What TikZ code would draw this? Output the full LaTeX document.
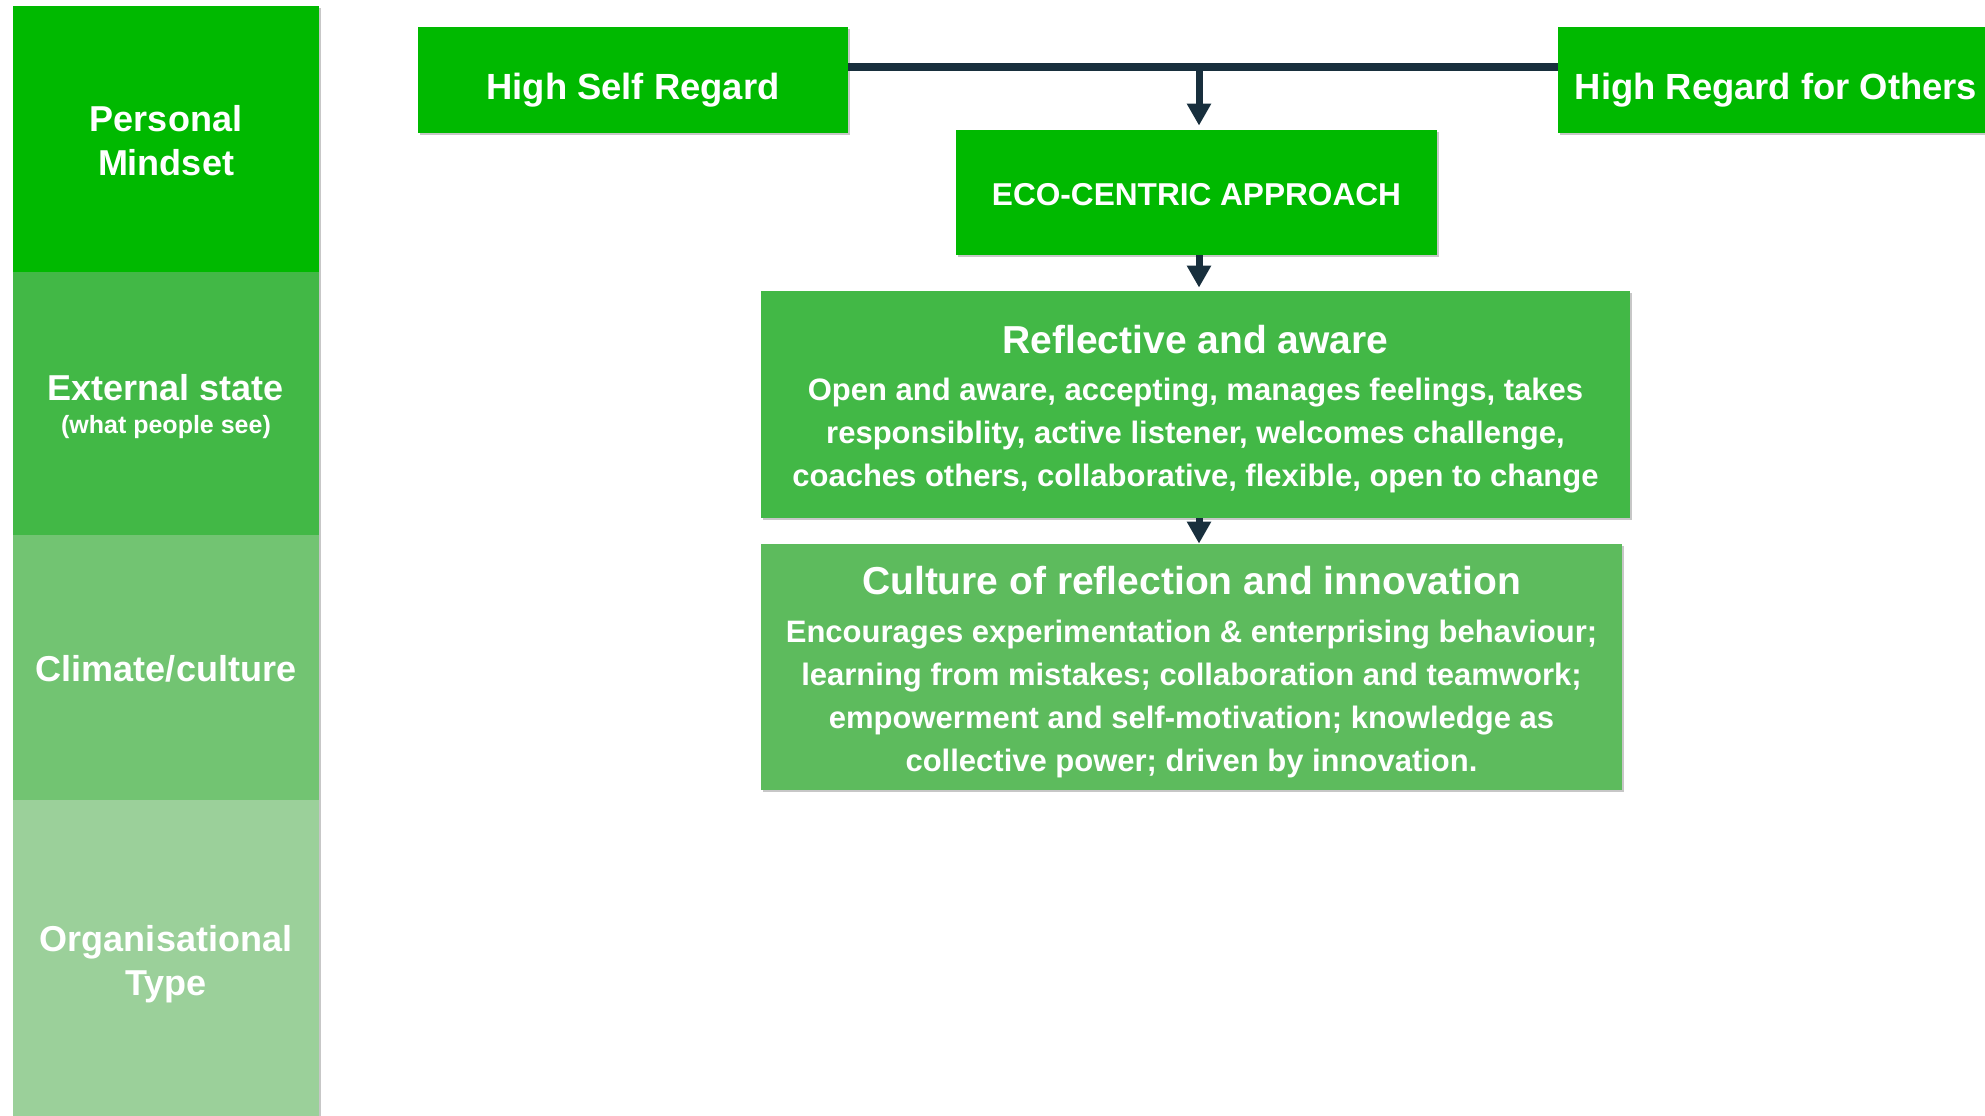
\documentclass[tikz,border=0pt]{standalone}
\usepackage{fontspec}
\setmainfont{Liberation Sans}
\usetikzlibrary{arrows.meta,shadows}
\definecolor{gBright}{HTML}{00B900}
\definecolor{gMid}{HTML}{42B846}
\definecolor{gClim}{HTML}{72C472}
\definecolor{gCult}{HTML}{5DBB5D}
\definecolor{gOrg}{HTML}{9BD09A}
\definecolor{navy}{HTML}{182F3D}
\tikzset{
  box/.style={draw=none, text=white, align=center, inner sep=0pt,
    drop shadow={shadow xshift=1.2pt, shadow yshift=-1.2pt, opacity=0.22, fill=black}},
  band/.style={box, minimum width=153pt, font=\bfseries\fontsize{18}{22}\selectfont},
  topbox/.style={box, fill=gBright, minimum height=53pt, font=\bfseries\fontsize{18.2}{22}\selectfont},
  bigbox/.style={box, font=\bfseries\fontsize{15.5}{21.5}\selectfont},
  conn/.style={draw=navy, line width=3.5pt, -{Triangle[width=11.5pt,length=11pt]}},
  barline/.style={draw=navy, line width=4pt},
}
\newcommand{\boxtitle}[1]{{\fontsize{19.5}{23}\selectfont #1}}
\newcommand{\lowered}[2]{\raisebox{-#1}[\height][\depth]{#2}}
\newcommand{\lines}[1]{\begin{tabular}{@{}c@{}}#1\end{tabular}}
\begin{document}
\begin{tikzpicture}[x=0.5pt,y=-0.5pt]
\useasboundingbox (0,0) rectangle (1985,1115);
\clip (0,0) rectangle (1985,1115);

% left column
\node[band, fill=gBright, minimum height=133pt] (pm) at (166,139)
  {\lowered{2.6pt}{\lines{Personal\\Mindset}}};
\node[band, fill=gMid, minimum height=131.5pt] (ext) at (166,403.5)
  {\lowered{2.3pt}{\lines{External state\\[-5.5pt]{\fontsize{12.5}{15}\selectfont (what people see)}}}};
\node[band, fill=gClim, minimum height=132.5pt] (cli) at (166,667.5)
  {\lowered{0.7pt}{Climate/culture}};
\node[band, fill=gOrg, minimum height=162.5pt] (org) at (166,962.5)
  {\lowered{1.3pt}{\lines{Organisational\\Type}}};

% top boxes
\node[topbox, minimum width=215pt] (hsr) at (633,80) {\lowered{5pt}{High Self Regard}};
\node[topbox, minimum width=218pt] (hro) at (1776,80) {\lowered{5pt}{High Regard for Others}};

\node[box, fill=gBright, minimum width=240.5pt, minimum height=62.5pt,
  font=\bfseries\fontsize{15.8}{19}\selectfont] (eco) at (1196.5,192.5)
  {\lowered{1pt}{ECO-CENTRIC APPROACH}};

\node[bigbox, fill=gMid, minimum width=434.5pt, minimum height=113.5pt] (refl) at (1195.5,404.5)
  {\lowered{3.6pt}{\lines{\boxtitle{Reflective and aware}\\[2pt]
   Open and aware, accepting, manages feelings, takes\\
   responsiblity, active listener, welcomes challenge,\\
   coaches others, collaborative, flexible, open to change}}};

\node[bigbox, fill=gCult, minimum width=430.5pt, minimum height=123pt] (cult) at (1191.5,667)
  {\lowered{3.5pt}{\lines{\boxtitle{Culture of reflection and innovation}\\[2.5pt]
   Encourages experimentation \& enterprising behaviour;\\
   learning from mistakes; collaboration and teamwork;\\
   empowerment and self-motivation; knowledge as\\
   collective power; driven by innovation.}}};

% connectors
\coordinate (bar) at (1199,67);
\draw[barline] (hsr.east |- bar) -- (hro.west |- bar);
\draw[conn, shorten >=2pt] ([yshift=-1pt]bar) -- (bar |- eco.north);
\draw[conn, shorten >=1.5pt] (bar |- eco.south) -- (bar |- refl.north);
\draw[conn] (bar |- refl.south) -- (bar |- cult.north);
\end{tikzpicture}
\end{document}
